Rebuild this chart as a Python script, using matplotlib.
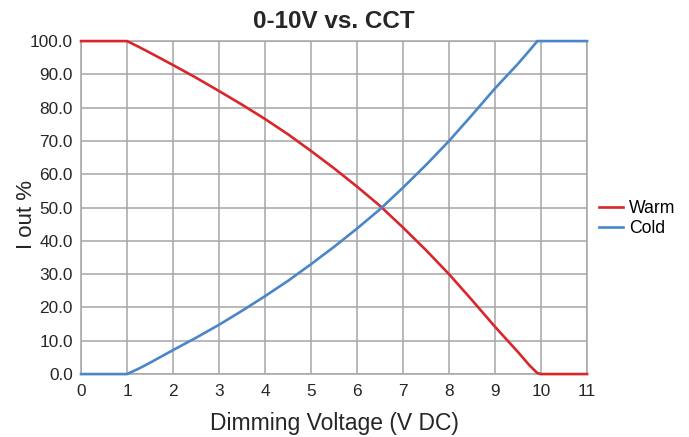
import matplotlib
matplotlib.use('Agg')
import matplotlib.pyplot as plt
from matplotlib.ticker import FormatStrFormatter

plt.rcParams['font.family'] = ['Liberation Sans', 'DejaVu Sans']

# dimming voltage (V DC)
volts = [0, 1, 1.25, 1.5, 2, 2.5, 3, 3.5, 4, 4.5, 5, 5.5, 6, 6.5, 7, 7.5, 8, 8.5, 9, 9.5, 9.75, 9.92, 10, 11]
# output current %
warm = [100, 100, 98.3, 96.5, 92.8, 89, 85, 80.9, 76.6, 72, 67, 61.8, 56.3, 50.5, 44, 37.2, 30, 22.2, 14.2, 6.6, 2.6, 0.3, 0, 0]
cold = [0, 0, 1.6, 3.4, 7.2, 10.9, 14.8, 19, 23.4, 28, 33, 38.2, 43.7, 49.5, 56, 62.8, 70, 77.8, 85.8, 93.2, 97.2, 100, 100, 100]

fig = plt.figure(figsize=(6.89, 4.37), dpi=100)
ax = fig.add_axes([0.1176, 0.144, 0.7344, 0.762])

ax.plot(volts, warm, color='#d9262b', lw=1.9, label='Warm', zorder=3, clip_on=False)
ax.plot(volts, cold, color='#4a86c8', lw=1.9, label='Cold', zorder=3, clip_on=False)

ax.set_xlim(0, 11)
ax.set_ylim(0, 100)
ax.set_xticks(range(0, 12))
ax.set_yticks(range(0, 101, 10))
ax.yaxis.set_major_formatter(FormatStrFormatter('%.1f'))
ax.grid(True, color='#a6a6a6', lw=1.1)
for s in ax.spines.values():
    s.set_color('#a6a6a6')
    s.set_linewidth(1.1)
ax.tick_params(length=0, labelsize=12.4, colors='#262626')
ax.tick_params(axis='x', pad=7.5)
ax.tick_params(axis='y', pad=6)

ax.set_title('0-10V vs. CCT', fontsize=17.5, fontweight='bold', color='#262626', pad=9.5)
ax.set_xlabel('Dimming Voltage (V DC)', fontsize=16.5, color='#262626', labelpad=9)
ax.set_ylabel('I out %', fontsize=16, color='#262626')
ax.yaxis.set_label_coords(-0.087, 0.48)

fig.legend(loc='center left', bbox_to_anchor=(0.846, 0.5), frameon=False,
           fontsize=12.7, handlelength=1.36, handletextpad=0.34, labelspacing=0.15)

fig.savefig('out.png', dpi=100)
